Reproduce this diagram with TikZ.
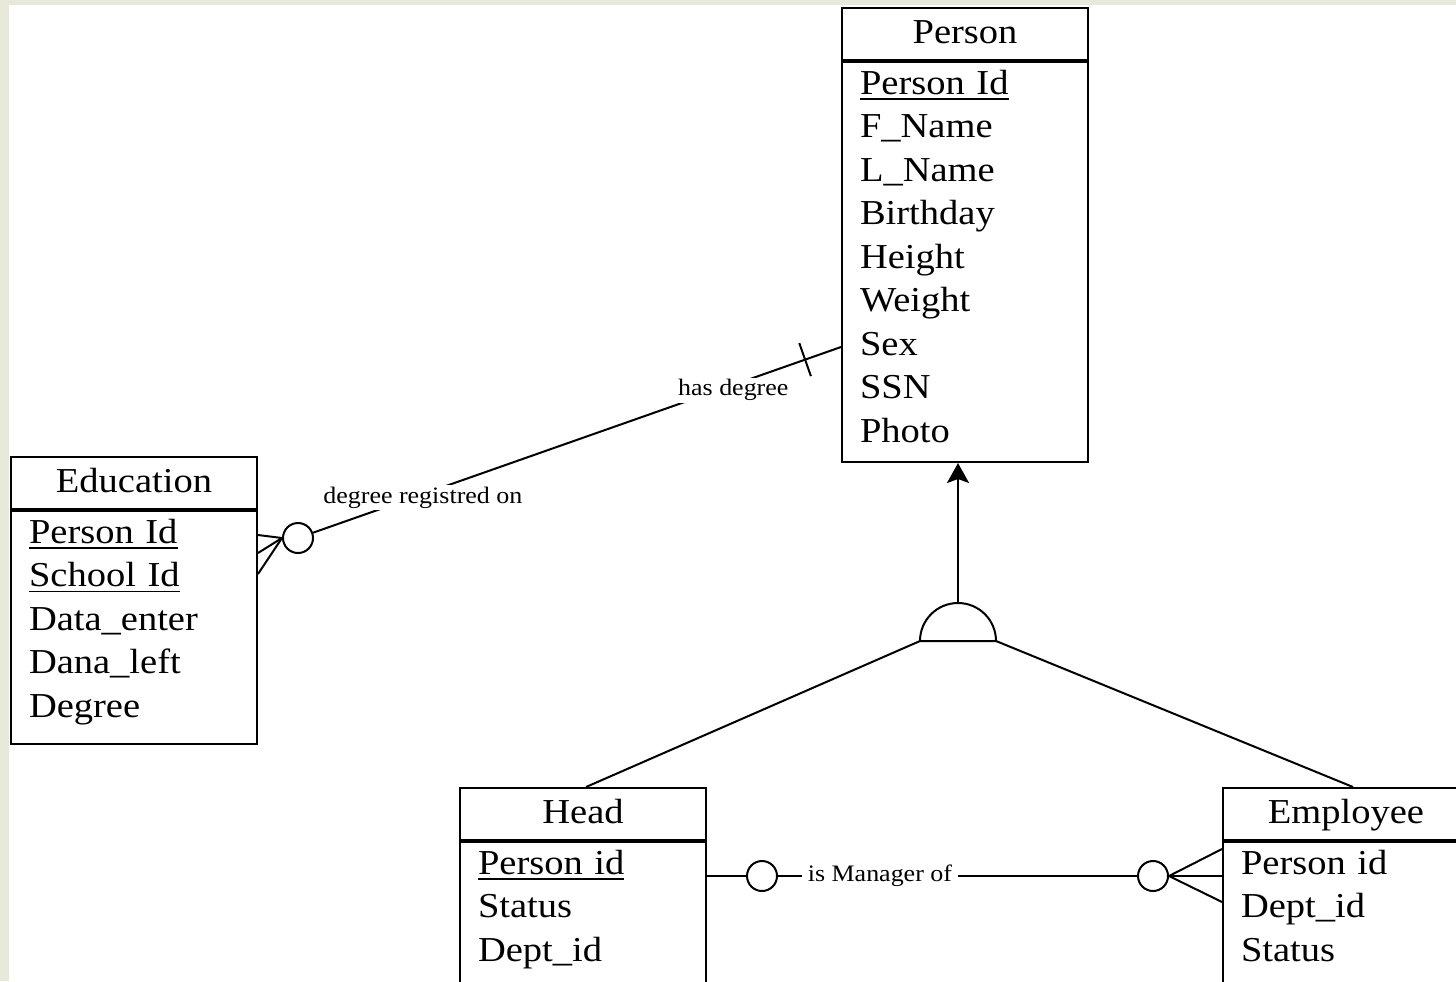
\documentclass[tikz,border=0pt]{standalone}
\usepackage{fontspec}
\setmainfont{Liberation Serif}[FakeStretch=1.1]
\usetikzlibrary{positioning}
\usetikzlibrary{arrows.meta}
\definecolor{paper}{RGB}{233,233,219}
\newcommand{\pkey}[1]{\leavevmode\setbox0=\hbox{#1}\rlap{\rule[-2.8pt]{\wd0}{0.8pt}}\box0}
\tikzset{
	ent_node/.style = {
		rectangle,
		draw=black,
		line width=1pt,
		font=\fontsize{17.5pt}{21.75pt}\selectfont
	},
	ent_title/.style = {
		ent_node,
		anchor=north west,
		align=center,
		minimum width=123pt,
		inner ysep=8.25pt,
		text height=9.5pt,
		text depth=0pt
	},
	ent_attr/.style = {
		ent_node,
		align=left,
		text width=105pt,
		inner xsep=9pt,
		inner ysep=4pt,
		text height=12pt,
		text depth=#1
	},
	crow_circ/.style = {
		circle,
		draw=black,
		fill=white,
		line width=1pt,
		minimum size=15pt,
		inner sep=0pt
	},
	rel_lbl/.style = {
		fill=white,
		inner xsep=3pt,
		inner ysep=1pt,
		font=\fontsize{11.8pt}{13pt}\selectfont
	},
	tick_bar/.style = {
		rectangle,
		draw=black,
		line width=1pt,
		inner sep=0pt,
		minimum width=0pt,
		minimum height=17.5pt
	},
}

\begin{document}
\begin{tikzpicture}[x=0.5pt, y=-0.5pt, >={Stealth[length=10pt, width=11pt, inset=2pt]}, line width=1pt]
\useasboundingbox (0,0) rectangle (1456,981);
\fill[paper] (0,0) rectangle (1456,981);
\fill[white] (9,5) rectangle (1456,981);
\clip (0,0) rectangle (1456,981);

\node[ent_title] (person) at (841,7) {Person};
\node[ent_attr=180pt, below=0pt of person] (person_attr) {\pkey{Person Id}\\F\_Name\\L\_Name\\Birthday\\Height\\Weight\\Sex\\SSN\\Photo};

\node[ent_title] (edu) at (10,456) {Education};
\node[ent_attr=96.5pt, below=0pt of edu] (edu_attr) {\pkey{Person Id}\\\pkey{School Id}\\Data\_enter\\Dana\_left\\Degree};

\node[ent_title] (head) at (459,787) {Head};
\node[ent_attr=90pt, below=0pt of head] (head_attr) {\pkey{Person id}\\Status\\Dept\_id};

\node[ent_title] (emp) at (1222,787) {Employee};
\node[ent_attr=90pt, below=0pt of emp] (emp_attr) {Person id\\Dept\_id\\Status};

\node[crow_circ] (circ_edu) at (298,538) {};
\node[crow_circ] (circ_head) at (762,876) {};
\node[crow_circ] (circ_emp) at (1153,876) {};

\draw ([yshift=-42.5pt]person_attr.west) -- node[tick_bar, pos=0.068, sloped] (tick_p) {} node[rel_lbl, pos=0.204, yshift=-2.7pt] (lbl_has) {has degree} node[rel_lbl, pos=0.792, yshift=-1.7pt] (lbl_reg) {degree registred on} (circ_edu);
\foreach \dy in {-3,15,36}
	\draw (edu_attr.east |- circ_edu) ++(0,\dy) -- (circ_edu.west);

\draw (head_attr.east |- circ_head) -- (circ_head);
\draw (circ_head) -- node[rel_lbl, pos=0.284] (lbl_mgr) {is Manager of} (circ_emp);
\foreach \dy in {-27,0,26}
	\draw (emp_attr.west |- circ_emp) ++(0,\dy) -- (circ_emp.east);

\coordinate (isa) at (958,641);
\draw (isa) ++(-38,0) arc[start angle=180, end angle=0, radius=19pt] -- cycle;
\draw[->] ([yshift=19pt]isa) -- (isa |- person_attr.south);
\draw ([xshift=-19pt]isa) -- ([xshift=1.5pt]head.north);
\draw ([xshift=19pt]isa) -- ([xshift=3.5pt]emp.north);
\end{tikzpicture}
\end{document}
